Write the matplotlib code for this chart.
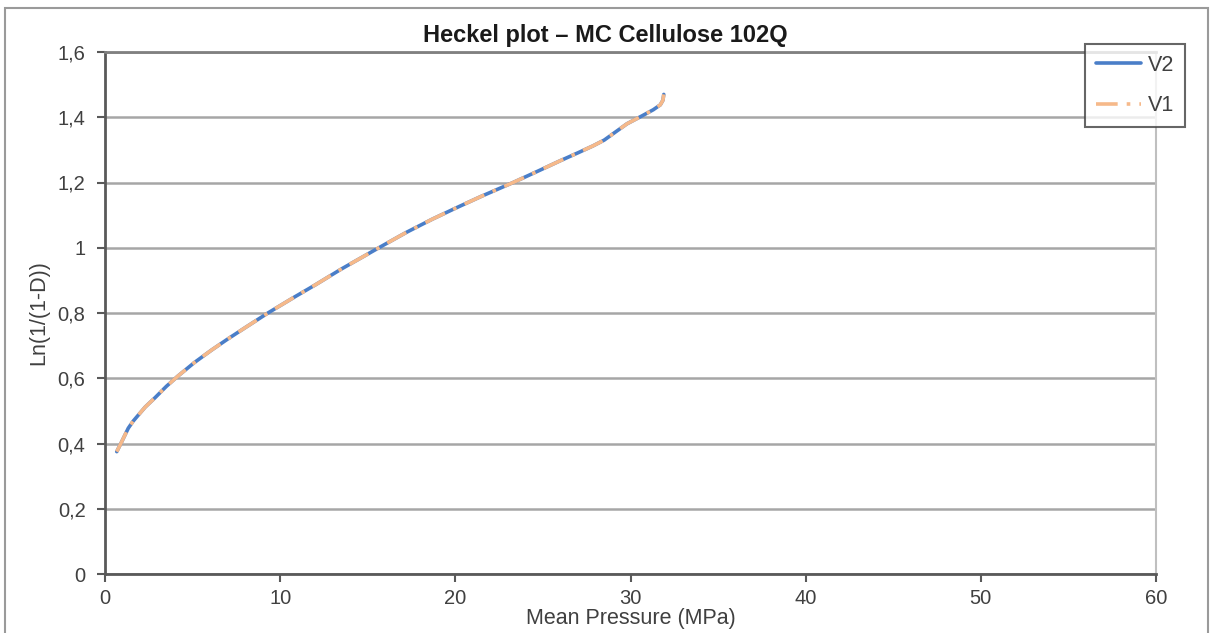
import matplotlib
matplotlib.use("Agg")
import matplotlib.pyplot as plt
from matplotlib.patches import Rectangle
from matplotlib.ticker import FuncFormatter

plt.rcParams['font.family'] = ['Liberation Sans', 'DejaVu Sans']

# Data
pressure_v2 = [0.67, 0.95, 1.33, 1.6, 1.9, 2.3, 2.85, 3.5, 4.17, 5.1, 6.1, 7.0, 8.0, 9.3,
               10.85, 12.0, 13.5, 15.7, 17.2, 18.7, 20.0, 21.5, 23.3, 24.8, 26.0, 27.0,
               27.85, 28.5, 29.2, 29.8, 30.65, 31.3, 31.7, 31.85, 31.9]
ln_v2 = [0.375, 0.405, 0.447, 0.468, 0.487, 0.512, 0.54, 0.575, 0.607, 0.648, 0.687, 0.72,
         0.755, 0.80, 0.85, 0.886, 0.935, 1.002, 1.047, 1.088, 1.121, 1.158, 1.20, 1.237,
         1.267, 1.291, 1.312, 1.33, 1.357, 1.38, 1.404, 1.423, 1.438, 1.452, 1.47]
pressure_v1 = pressure_v2
ln_v1 = ln_v2

x_ticks = [0, 10, 20, 30, 40, 50, 60]
y_ticks = [0, 0.2, 0.4, 0.6, 0.8, 1.0, 1.2, 1.4, 1.6]

fig = plt.figure(figsize=(12.13, 6.33), dpi=100)
ax = fig.add_axes([105/1213, 1 - 574/633, (1156-105)/1213, (574-52)/633])

ax.plot(pressure_v2, ln_v2, color='#4A7EC8', lw=2.6, label='V2', solid_capstyle='round')
ax.plot(pressure_v1, ln_v1, color='#F6B98A', lw=2.6, label='V1', linestyle=(0, (6, 2.5, 1, 2.5)))

ax.set_xlim(0, 60)
ax.set_ylim(0, 1.6)
ax.set_xticks(x_ticks)
ax.set_yticks(y_ticks)

def fmt(v, pos):
    s = ('%.1f' % v).rstrip('0').rstrip('.')
    return s.replace('.', ',')

ax.yaxis.set_major_formatter(FuncFormatter(fmt))
ax.xaxis.set_major_formatter(FuncFormatter(lambda v, p: '%d' % v))
ax.grid(axis='y', color='#A6A6A6', lw=1.8)
ax.set_axisbelow(True)
ax.tick_params(axis='both', labelsize=14.5, colors='#595959', labelcolor='#404040',
               length=6, width=1.5, direction='out')
ax.tick_params(axis='y', pad=8)
ax.tick_params(axis='x', pad=5)
for side in ['left', 'bottom']:
    ax.spines[side].set_color('#595959')
    ax.spines[side].set_linewidth(2)
ax.spines['top'].set_color('#808080')
ax.spines['top'].set_linewidth(2)
ax.spines['right'].set_color('#BFBFBF')
ax.spines['right'].set_linewidth(1.5)

ax.set_xlabel('Mean Pressure (MPa)', fontsize=15.5, color='#404040', labelpad=0)
ax.set_ylabel('Ln(1/(1-D))', fontsize=15.5, color='#404040', labelpad=6)
ax.set_title('Heckel plot \u2013 MC Cellulose 102Q', fontsize=17, fontweight='bold',
             color='#1a1a1a', pad=7, x=(605-105)/(1156-105))

leg = ax.legend(loc='upper left', bbox_to_anchor=((1085-105)/(1156-105), (574-44)/(574-52)),
                fontsize=15.5, frameon=True, fancybox=False, handlelength=2.1,
                borderpad=0.5, labelspacing=0.9, handletextpad=0.3, borderaxespad=0)
leg.get_frame().set_edgecolor('#404040')
leg.get_frame().set_linewidth(1.5)
for t in leg.get_texts():
    t.set_color('#404040')

fig.patches.append(Rectangle((5/1213, -0.05), (1208-5)/1213, 1.05 - 8/633,
                             transform=fig.transFigure, fill=False,
                             edgecolor='#9a9a9a', lw=1.5))

fig.savefig('out.png', dpi=100)
